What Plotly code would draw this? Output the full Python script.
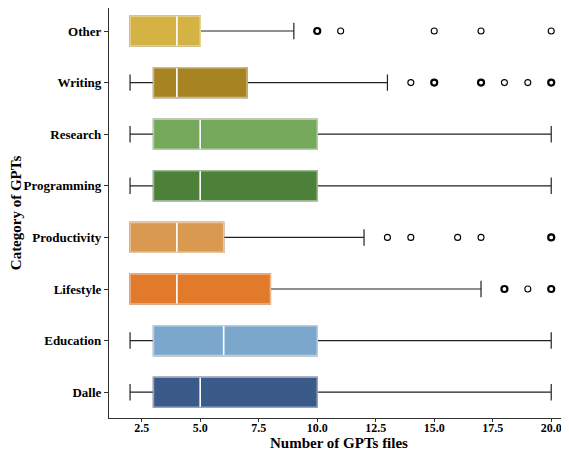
import plotly.graph_objects as go

categories = ["Dalle", "Education", "Lifestyle", "Productivity", "Programming", "Research", "Writing", "Other"]
lower_whisker = [2, 2, 2, 2, 2, 2, 2, 2]
q1_values = [3, 3, 2, 2, 3, 3, 3, 2]
median_values = [5, 6, 4, 4, 5, 5, 4, 4]
q3_values = [10, 10, 8, 6, 10, 10, 7, 5]
upper_whisker = [20, 20, 17, 12, 20, 20, 13, 9]
box_colors = ["#3A5A8A", "#7BA7CC", "#E27A2C", "#D99950", "#4D8039", "#76A85B", "#A68422", "#D4B244"]

# outliers: (category, value, repeated)
outlier_cat = ["Lifestyle", "Lifestyle", "Lifestyle",
               "Productivity", "Productivity", "Productivity", "Productivity", "Productivity",
               "Writing", "Writing", "Writing", "Writing", "Writing", "Writing",
               "Other", "Other", "Other", "Other", "Other"]
outlier_val = [18, 19, 20,
               13, 14, 16, 17, 20,
               14, 15, 17, 18, 19, 20,
               10, 11, 15, 17, 20]
outlier_multi = [True, False, True,
                 False, False, False, False, True,
                 False, True, True, False, False, True,
                 True, False, False, False, False]


def tint(hexcol, f=0.45):
    h = hexcol.lstrip("#")
    r, g, b = (int(h[i:i + 2], 16) for i in (0, 2, 4))
    r, g, b = (round(c + (255 - c) * f) for c in (r, g, b))
    return f"rgb({r},{g},{b})"


fig = go.Figure()
BW = 0.58
for i, c in enumerate(categories):
    fig.add_trace(go.Box(
        y=[c], orientation="h",
        q1=[q1_values[i]], median=[median_values[i]], q3=[q3_values[i]],
        lowerfence=[lower_whisker[i]], upperfence=[upper_whisker[i]],
        fillcolor="rgba(0,0,0,0)", line=dict(color="#222222", width=1.2),
        whiskerwidth=0.55, width=BW, showlegend=False, boxpoints=False,
    ))
for i, c in enumerate(categories):
    fig.add_trace(go.Box(
        y=[c], orientation="h",
        q1=[q1_values[i]], median=[median_values[i]], q3=[q3_values[i]],
        lowerfence=[q1_values[i]], upperfence=[q3_values[i]],
        fillcolor=box_colors[i], line=dict(color=tint(box_colors[i]), width=1.5),
        whiskerwidth=0, width=BW, showlegend=False, boxpoints=False,
    ))

# white median lines
for i, c in enumerate(categories):
    fig.add_trace(go.Box(
        y=[c], orientation="h",
        q1=[median_values[i]], median=[median_values[i]], q3=[median_values[i]],
        lowerfence=[median_values[i]], upperfence=[median_values[i]],
        fillcolor="rgba(0,0,0,0)", line=dict(color="white", width=1.5),
        whiskerwidth=0, width=BW - 0.02, showlegend=False, boxpoints=False,
    ))

fig.add_trace(go.Scatter(
    x=outlier_val, y=outlier_cat, mode="markers",
    marker=dict(symbol="circle-open", size=6, color="black",
                line=dict(color="black", width=[2.2 if m else 1.1 for m in outlier_multi])),
    showlegend=False, cliponaxis=False,
))

font_family = "Liberation Serif, Times New Roman, serif"
# the page body adds an 8px offset, so the figure is sized to the remaining window
fig.update_layout(
    width=561, height=446,
    margin=dict(l=101, r=0, t=0, b=36),
    paper_bgcolor="white", plot_bgcolor="white",
    boxmode="overlay",
    font=dict(family=font_family, color="black"),
    xaxis=dict(
        range=[1.1, 20.76], automargin=False,
        tickvals=[2.5, 5.0, 7.5, 10.0, 12.5, 15.0, 17.5, 20.0],
        ticktext=["<b>2.5</b>", "<b>5.0</b>", "<b>7.5</b>", "<b>10.0</b>", "<b>12.5</b>",
                  "<b>15.0</b>", "<b>17.5</b>", "<b>20.0</b>"],
        tickfont=dict(size=12, family=font_family),
        ticklabelstandoff=-5,
        showgrid=False, zeroline=False,
        showline=True, linecolor="#333333", linewidth=1.2,
        ticks="outside", ticklen=3, tickcolor="#333333",
        title=dict(text="<b>Number of GPTs files</b>", font=dict(size=15, family=font_family), standoff=0),
    ),
    yaxis=dict(
        categoryorder="array", categoryarray=categories, automargin=False,
        range=[-0.5, 7.446],
        tickfont=dict(size=13, family=font_family),
        tickvals=categories,
        ticktext=[f"<b>{c}</b>" for c in categories],
        showgrid=False, zeroline=False,
        showline=True, linecolor="#333333", linewidth=1.2,
        ticks="outside", ticklen=4, tickcolor="#333333",
        title=dict(text="<b>Category of GPTs</b>", font=dict(size=15, family=font_family), standoff=6),
    ),
)

fig.write_html("out.html")
